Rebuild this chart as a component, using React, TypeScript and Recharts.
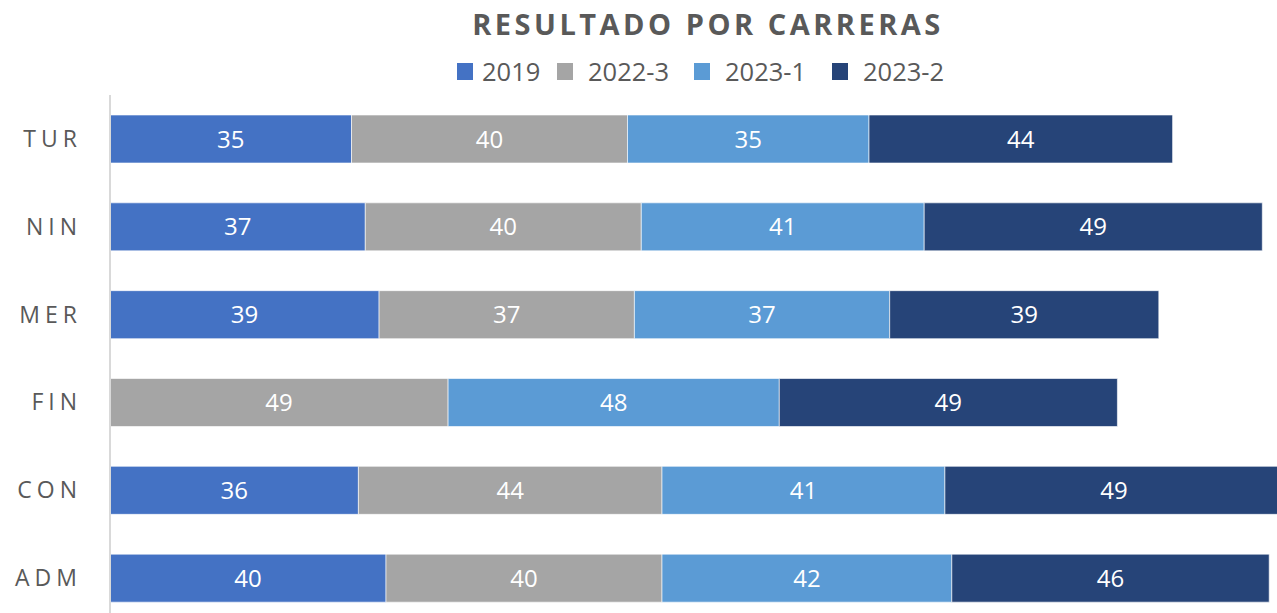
import { BarChart, Bar, XAxis, YAxis, Legend, LabelList } from "recharts"

// carreras, de arriba hacia abajo
const carreras = ["TUR", "NIN", "MER", "FIN", "CON", "ADM"]

const v2019 = [35, 37, 39, null, 36, 40]
const v2022_3 = [40, 40, 37, 49, 44, 40]
const v2023_1 = [35, 41, 37, 48, 41, 42]
const v2023_2 = [44, 49, 39, 49, 49, 46]

const series = [
  { key: "2019", color: "#4472C4" },
  { key: "2022-3", color: "#A5A5A5" },
  { key: "2023-1", color: "#5B9BD5" },
  { key: "2023-2", color: "#264478" },
]

// left edge of each legend swatch / label (relative to the legend box)
const legendSwatchX = [0, 100, 237, 375]
const legendTextX = [25, 131, 268, 406]

const data = carreras.map((name, i) => ({
  name,
  "2019": v2019[i],
  "2022-3": v2022_3[i],
  "2023-1": v2023_1[i],
  "2023-2": v2023_2[i],
}))

const font = "'Open Sans', sans-serif"
const textColor = "#595959"

function CategoryTick(props: any) {
  const { x, y, payload } = props
  return (
    <text
      x={x - 20}
      y={y}
      dy={8}
      textAnchor="end"
      fill={textColor}
      fontSize={23}
      fontFamily={font}
      letterSpacing={5}
    >
      {payload.value}
    </text>
  )
}

function LegendContent() {
  return (
    <div style={{ position: "relative", height: 30, fontFamily: font, fontSize: 25.5, color: textColor }}>
      {series.map((s, i) => (
        <div key={s.key}>
          <span
            style={{
              position: "absolute",
              left: legendSwatchX[i],
              top: 6,
              width: 16,
              height: 17,
              background: s.color,
            }}
          />
          <span style={{ position: "absolute", left: legendTextX[i], top: -3, lineHeight: "34px", whiteSpace: "nowrap" }}>
            {s.key}
          </span>
        </div>
      ))}
    </div>
  )
}

export default function App() {
  return (
    <div style={{ position: "absolute", left: 0, top: 0, width: 1277, height: 613, overflow: "hidden", background: "#fff" }}>
      <div
        style={{
          position: "absolute",
          top: 4,
          left: 0,
          width: 1416,
          textAlign: "center",
          fontFamily: font,
          fontWeight: 700,
          fontSize: 29,
          letterSpacing: 3.5,
          color: textColor,
        }}
      >
        RESULTADO POR CARRERAS
      </div>
      <BarChart
        width={1290}
        height={625}
        data={data}
        layout="vertical"
        margin={{ top: 95, right: 7, bottom: 3, left: 0 }}
        barSize={48}
      >
        <XAxis type="number" domain={[0, 170]} hide />
        <YAxis
          type="category"
          dataKey="name"
          width={110}
          tickLine={false}
          axisLine={{ stroke: "#d9d9d9", strokeWidth: 2 }}
          tick={<CategoryTick />}
        />
        <Legend
          layout="horizontal"
          verticalAlign="middle"
          align="center"
          content={<LegendContent />}
          wrapperStyle={{ top: 57, left: 457, width: 520 }}
        />
        {series.map((s) => (
          <Bar
            key={s.key}
            dataKey={s.key}
            stackId="a"
            fill={s.color}
            stroke="#ffffff"
            strokeOpacity={0.6}
            strokeWidth={1}
            isAnimationActive={false}
          >
            <LabelList dataKey={s.key} position="center" fill="#ffffff" fontSize={24} fontFamily={font} />
          </Bar>
        ))}
      </BarChart>
    </div>
  )
}
